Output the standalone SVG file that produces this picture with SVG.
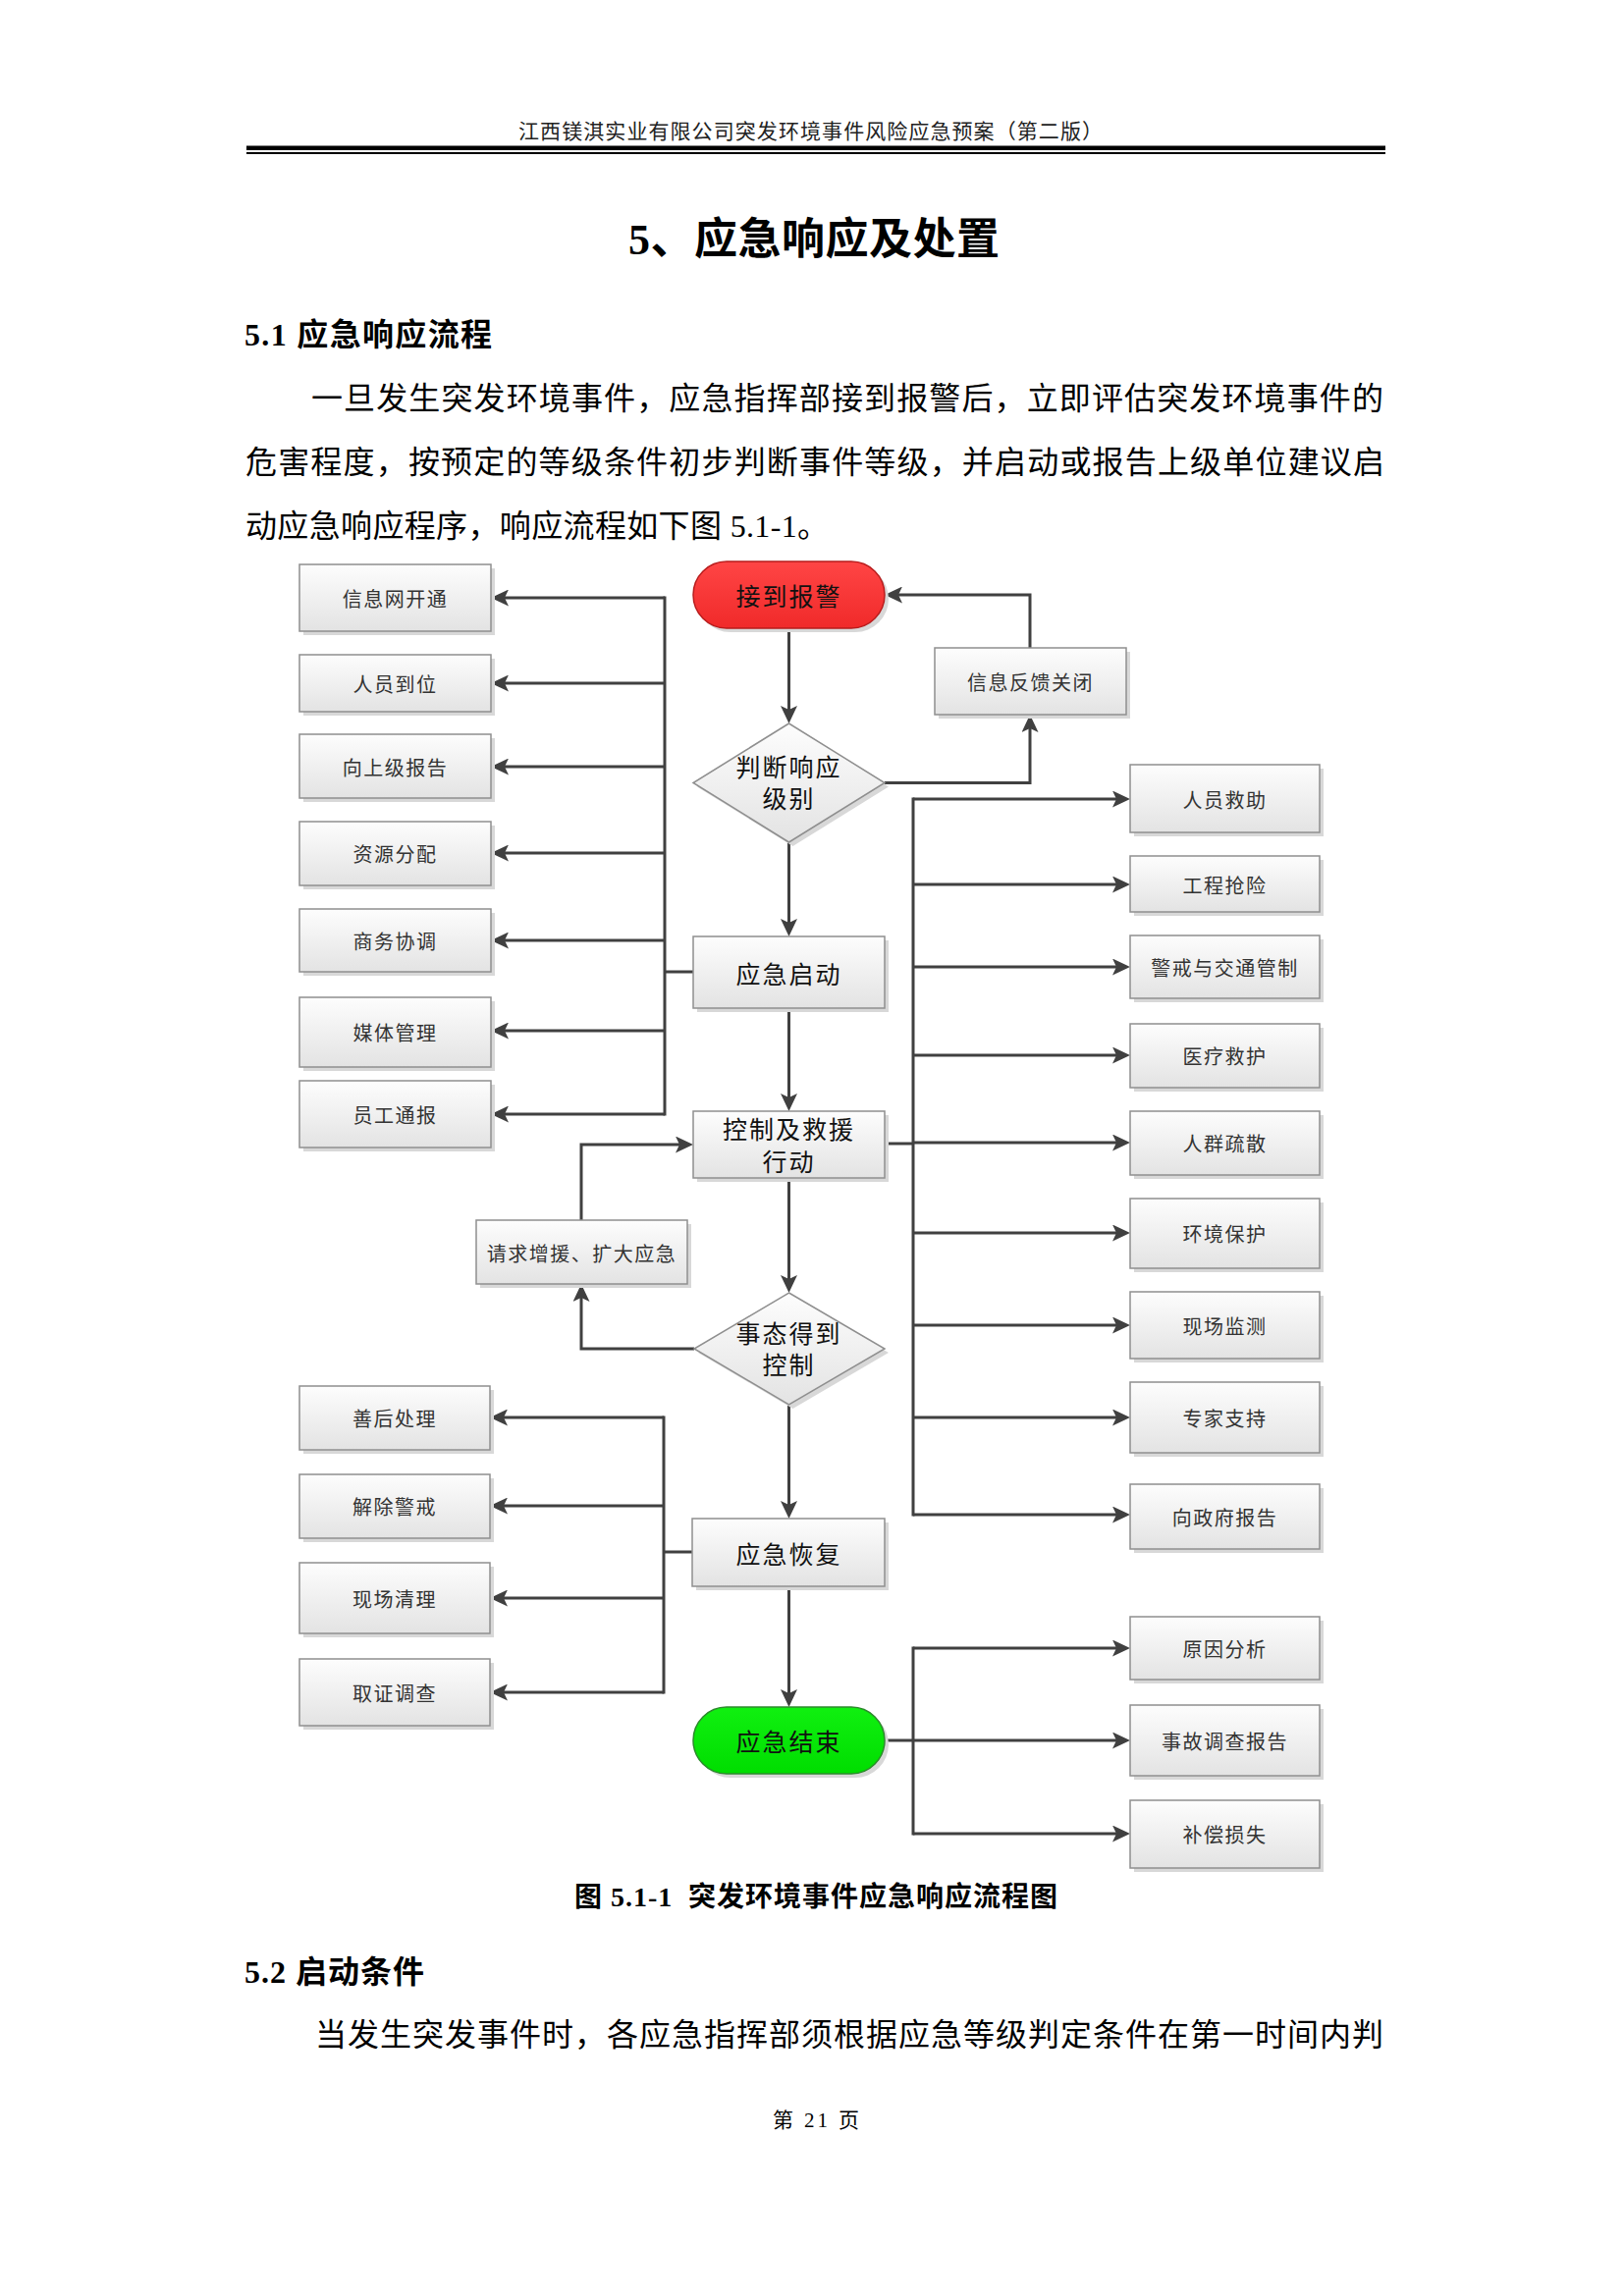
<svg xmlns="http://www.w3.org/2000/svg" width="1654" height="2339" viewBox="0 0 1654 2339">
<style>
.doc{font-family:"Liberation Serif","Noto Sans CJK SC",serif;fill:#000}
.bx{fill:url(#gBox);stroke:#8f8f8f;stroke-width:1.5}
.sh{fill:#d8d8d8}
.lbl{font-family:"Noto Sans CJK SC","Liberation Sans",sans-serif;font-size:20px;fill:#333;letter-spacing:1.5px;text-anchor:middle;dominant-baseline:central}
.mlbl{font-family:"Noto Sans CJK SC","Liberation Sans",sans-serif;font-size:25px;fill:#111;letter-spacing:2px;text-anchor:middle;dominant-baseline:central}
.c{fill:none;stroke:#404040;stroke-width:3}
.bus{fill:none;stroke:#404040;stroke-width:3;stroke-linecap:square}
.a{marker-end:url(#arr)}
</style>
<defs>
<linearGradient id="gBox" x1="0" y1="0" x2="0" y2="1">
<stop offset="0" stop-color="#fdfdfd"/>
<stop offset="1" stop-color="#e3e3e3"/>
</linearGradient>
<linearGradient id="gRed" x1="0" y1="0" x2="0" y2="1">
<stop offset="0" stop-color="#ff4545"/>
<stop offset="1" stop-color="#f02a2a"/>
</linearGradient>
<linearGradient id="gGreen" x1="0" y1="0" x2="0" y2="1">
<stop offset="0" stop-color="#10f010"/>
<stop offset="1" stop-color="#00dd00"/>
</linearGradient>
<marker id="arr" viewBox="0 0 18 17" refX="14" refY="8.5" markerWidth="18" markerHeight="17" markerUnits="userSpaceOnUse" orient="auto">
<path d="M0,0 L18,8.5 L0,17 L4,8.5 z" fill="#404040"/>
</marker>
</defs>
<rect width="1654" height="2339" fill="#fff"/>

<!-- page header and body text -->
<g id="page-text" class="doc">
<text x="528" y="141" font-size="21" textLength="595" lengthAdjust="spacing" fill="#222">江西镁淇实业有限公司突发环境事件风险应急预案（第二版）</text>
<rect x="251" y="148.5" width="1160" height="4.5" fill="#000"/>
<rect x="251" y="155" width="1160" height="2" fill="#000"/>
<text x="640" y="259" font-size="44" font-weight="bold" textLength="378" lengthAdjust="spacing">5、应急响应及处置</text>
<text x="249" y="352" font-size="32" font-weight="bold" textLength="252" lengthAdjust="spacing">5.1 应急响应流程</text>
<text x="317" y="417" font-size="32" textLength="1092" lengthAdjust="spacing">一旦发生突发环境事件，应急指挥部接到报警后，立即评估突发环境事件的</text>
<text x="250" y="482" font-size="32" textLength="1160" lengthAdjust="spacing">危害程度，按预定的等级条件初步判断事件等级，并启动或报告上级单位建议启</text>
<text x="250" y="547" font-size="32" textLength="594" lengthAdjust="spacing">动应急响应程序，响应流程如下图 5.1-1。</text>
<text x="585" y="1942" font-size="28" font-weight="bold" textLength="492" lengthAdjust="spacing" xml:space="preserve">图 5.1-1  突发环境事件应急响应流程图</text>
<text x="249" y="2020" font-size="32" font-weight="bold" textLength="183" lengthAdjust="spacing">5.2 启动条件</text>
<text x="321" y="2084" font-size="32" textLength="1088" lengthAdjust="spacing">当发生突发事件时，各应急指挥部须根据应急等级判定条件在第一时间内判</text>
<text x="787" y="2167" font-size="21" textLength="88" lengthAdjust="spacing" xml:space="preserve">第 21 页</text>
</g>

<!-- connectors -->
<g id="connectors">
<path class="c a" d="M803.5,640 V733"/>
<path class="c a" d="M803.5,858 V950"/>
<path class="c a" d="M803.5,1027 V1128"/>
<path class="c a" d="M803.5,1200 V1313"/>
<path class="c a" d="M803.5,1431 V1543"/>
<path class="c a" d="M803.5,1616 V1735"/>
<path class="c a" d="M1049,660 V606 H905"/>
<path class="c a" d="M901,797.5 H1049 V732"/>
<path class="c a" d="M707,1374 H592 V1312"/>
<path class="c a" d="M592,1243 V1166 H702"/>
<path class="bus" d="M677,609 V1135"/>
<path class="c" d="M706,990 H677"/>
<path class="c a" d="M677,609 H504"/>
<path class="c a" d="M677,696 H504"/>
<path class="c a" d="M677,781 H504"/>
<path class="c a" d="M677,869 H504"/>
<path class="c a" d="M677,958 H504"/>
<path class="c a" d="M677,1050 H504"/>
<path class="c a" d="M677,1135 H504"/>
<path class="bus" d="M930,814 V1543"/>
<path class="c" d="M901,1165 H930"/>
<path class="c a" d="M930,814 H1147"/>
<path class="c a" d="M930,901 H1147"/>
<path class="c a" d="M930,985 H1147"/>
<path class="c a" d="M930,1075 H1147"/>
<path class="c a" d="M930,1164 H1147"/>
<path class="c a" d="M930,1256 H1147"/>
<path class="c a" d="M930,1350 H1147"/>
<path class="c a" d="M930,1444 H1147"/>
<path class="c a" d="M930,1543 H1147"/>
<path class="bus" d="M676,1444 V1724"/>
<path class="c" d="M705,1581 H676"/>
<path class="c a" d="M676,1444 H503"/>
<path class="c a" d="M676,1534 H503"/>
<path class="c a" d="M676,1628 H503"/>
<path class="c a" d="M676,1724 H503"/>
<path class="bus" d="M930,1679 V1868"/>
<path class="c" d="M901,1773 H930"/>
<path class="c a" d="M930,1679 H1147"/>
<path class="c a" d="M930,1773 H1147"/>
<path class="c a" d="M930,1868 H1147"/>
</g>

<!-- main column -->
<g id="n-start">
<rect x="710" y="576" width="195" height="68" rx="34" class="sh"/>
<rect x="706" y="572" width="195" height="68" rx="34" fill="url(#gRed)" stroke="#b81d1d" stroke-width="1.5"/>
<text x="803.5" y="606" class="mlbl" fill="#000">接到报警</text>
</g>
<g id="n-judge">
<polygon points="807.5,741 905,801.5 807.5,862 710,801.5" class="sh"/>
<polygon points="803.5,737 901,797.5 803.5,858 706,797.5" class="bx"/>
<text x="803.5" y="780" class="mlbl">判断响应</text>
<text x="803.5" y="812" class="mlbl">级别</text>
</g>
<g id="n-launch">
<rect x="710" y="958" width="195" height="73" class="sh"/>
<rect x="706" y="954" width="195" height="73" class="bx"/>
<text x="803.5" y="991" class="mlbl">应急启动</text>
</g>
<g id="n-control">
<rect x="710" y="1136" width="195" height="68" class="sh"/>
<rect x="706" y="1132" width="195" height="68" class="bx"/>
<text x="803.5" y="1149" class="mlbl">控制及救援</text>
<text x="803.5" y="1182" class="mlbl">行动</text>
</g>
<g id="n-controlled">
<polygon points="807.5,1321 905,1378 807.5,1435 711,1378" class="sh"/>
<polygon points="803.5,1317 901,1374 803.5,1431 707,1374" class="bx"/>
<text x="803.5" y="1357" class="mlbl">事态得到</text>
<text x="803.5" y="1389" class="mlbl">控制</text>
</g>
<g id="n-recover">
<rect x="709" y="1551" width="196" height="69" class="sh"/>
<rect x="705" y="1547" width="196" height="69" class="bx"/>
<text x="803.5" y="1582" class="mlbl">应急恢复</text>
</g>
<g id="n-end">
<rect x="710" y="1743" width="195" height="68" rx="34" class="sh"/>
<rect x="706" y="1739" width="195" height="68" rx="34" fill="url(#gGreen)" stroke="#2c8a2c" stroke-width="1.5"/>
<text x="803.5" y="1773" class="mlbl" fill="#000">应急结束</text>
</g>
<g id="n-feedback">
<rect x="956" y="664" width="195" height="68" class="sh"/>
<rect x="952" y="660" width="195" height="68" class="bx"/>
<text x="1049.5" y="694" class="lbl">信息反馈关闭</text>
</g>
<g id="n-request">
<rect x="489" y="1247" width="215" height="65" class="sh"/>
<rect x="485" y="1243" width="215" height="65" class="bx"/>
<text x="592.5" y="1276" class="lbl">请求增援、扩大应急</text>
</g>

<!-- left upper group -->
<g id="n-l1"><rect x="309" y="579" width="195" height="68" class="sh"/><rect x="305" y="575" width="195" height="68" class="bx"/><text x="402.5" y="609" class="lbl">信息网开通</text></g>
<g id="n-l2"><rect x="309" y="671" width="195" height="58" class="sh"/><rect x="305" y="667" width="195" height="58" class="bx"/><text x="402.5" y="696" class="lbl">人员到位</text></g>
<g id="n-l3"><rect x="309" y="752" width="195" height="65" class="sh"/><rect x="305" y="748" width="195" height="65" class="bx"/><text x="402.5" y="781" class="lbl">向上级报告</text></g>
<g id="n-l4"><rect x="309" y="841" width="195" height="65" class="sh"/><rect x="305" y="837" width="195" height="65" class="bx"/><text x="402.5" y="869" class="lbl">资源分配</text></g>
<g id="n-l5"><rect x="309" y="930" width="195" height="64" class="sh"/><rect x="305" y="926" width="195" height="64" class="bx"/><text x="402.5" y="958" class="lbl">商务协调</text></g>
<g id="n-l6"><rect x="309" y="1020" width="195" height="71" class="sh"/><rect x="305" y="1016" width="195" height="71" class="bx"/><text x="402.5" y="1051" class="lbl">媒体管理</text></g>
<g id="n-l7"><rect x="309" y="1105" width="195" height="68" class="sh"/><rect x="305" y="1101" width="195" height="68" class="bx"/><text x="402.5" y="1135" class="lbl">员工通报</text></g>

<!-- left lower group -->
<g id="n-b1"><rect x="309" y="1416" width="194" height="65" class="sh"/><rect x="305" y="1412" width="194" height="65" class="bx"/><text x="402" y="1444" class="lbl">善后处理</text></g>
<g id="n-b2"><rect x="309" y="1506" width="194" height="65" class="sh"/><rect x="305" y="1502" width="194" height="65" class="bx"/><text x="402" y="1534" class="lbl">解除警戒</text></g>
<g id="n-b3"><rect x="309" y="1596" width="194" height="72" class="sh"/><rect x="305" y="1592" width="194" height="72" class="bx"/><text x="402" y="1628" class="lbl">现场清理</text></g>
<g id="n-b4"><rect x="309" y="1694" width="194" height="68" class="sh"/><rect x="305" y="1690" width="194" height="68" class="bx"/><text x="402" y="1724" class="lbl">取证调查</text></g>

<!-- right group -->
<g id="n-r1"><rect x="1155" y="783" width="193" height="69" class="sh"/><rect x="1151" y="779" width="193" height="69" class="bx"/><text x="1247.5" y="814" class="lbl">人员救助</text></g>
<g id="n-r2"><rect x="1155" y="876" width="193" height="57" class="sh"/><rect x="1151" y="872" width="193" height="57" class="bx"/><text x="1247.5" y="901" class="lbl">工程抢险</text></g>
<g id="n-r3"><rect x="1155" y="957" width="193" height="64" class="sh"/><rect x="1151" y="953" width="193" height="64" class="bx"/><text x="1247.5" y="985" class="lbl">警戒与交通管制</text></g>
<g id="n-r4"><rect x="1155" y="1047" width="193" height="65" class="sh"/><rect x="1151" y="1043" width="193" height="65" class="bx"/><text x="1247.5" y="1075" class="lbl">医疗救护</text></g>
<g id="n-r5"><rect x="1155" y="1136" width="193" height="65" class="sh"/><rect x="1151" y="1132" width="193" height="65" class="bx"/><text x="1247.5" y="1164" class="lbl">人群疏散</text></g>
<g id="n-r6"><rect x="1155" y="1225" width="193" height="71" class="sh"/><rect x="1151" y="1221" width="193" height="71" class="bx"/><text x="1247.5" y="1256" class="lbl">环境保护</text></g>
<g id="n-r7"><rect x="1155" y="1320" width="193" height="68" class="sh"/><rect x="1151" y="1316" width="193" height="68" class="bx"/><text x="1247.5" y="1350" class="lbl">现场监测</text></g>
<g id="n-r8"><rect x="1155" y="1412" width="193" height="72" class="sh"/><rect x="1151" y="1408" width="193" height="72" class="bx"/><text x="1247.5" y="1444" class="lbl">专家支持</text></g>
<g id="n-r9"><rect x="1155" y="1516" width="193" height="66" class="sh"/><rect x="1151" y="1512" width="193" height="66" class="bx"/><text x="1247.5" y="1545" class="lbl">向政府报告</text></g>
<g id="n-r10"><rect x="1155" y="1651" width="193" height="64" class="sh"/><rect x="1151" y="1647" width="193" height="64" class="bx"/><text x="1247.5" y="1679" class="lbl">原因分析</text></g>
<g id="n-r11"><rect x="1155" y="1741" width="193" height="72" class="sh"/><rect x="1151" y="1737" width="193" height="72" class="bx"/><text x="1247.5" y="1773" class="lbl">事故调查报告</text></g>
<g id="n-r12"><rect x="1155" y="1838" width="193" height="69" class="sh"/><rect x="1151" y="1834" width="193" height="69" class="bx"/><text x="1247.5" y="1868" class="lbl">补偿损失</text></g>
</svg>
